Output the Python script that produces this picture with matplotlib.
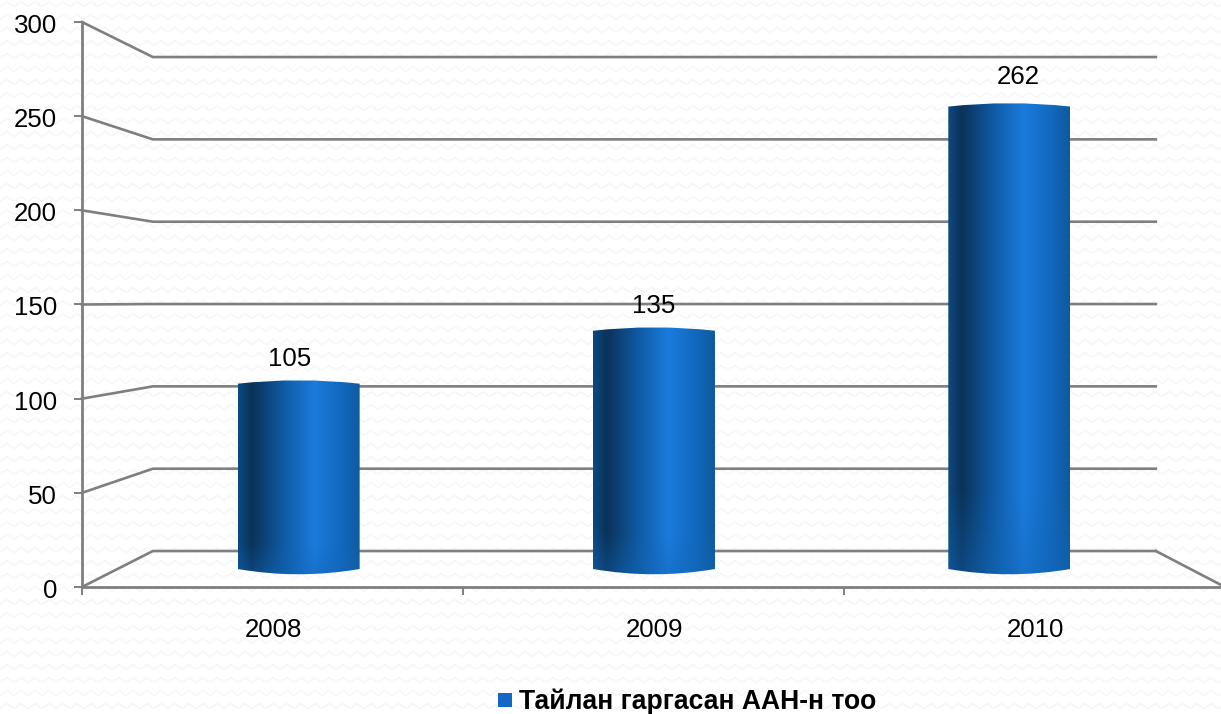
import numpy as np
import matplotlib.pyplot as plt
from matplotlib.colors import LinearSegmentedColormap
from matplotlib.patches import PathPatch, Rectangle
from matplotlib.path import Path
from matplotlib.transforms import ScaledTranslation

years = ["2008", "2009", "2010"]
reports = [105, 135, 262]
y_ticks = [0, 50, 100, 150, 200, 250, 300]
legend_label = "Тайлан гаргасан ААН-н тоо"

W, H = 1221, 714
grey = "#7f7f7f"
fontsize = 18.6

plt.rcParams.update(
    {
        "font.family": ["Liberation Sans", "DejaVu Sans"],
        "font.size": fontsize,
    }
)


# fake 3d: depth 0 is the front of the box, depth 1 the back wall
def depth_x(c, d):
    return d * 0.186 + c * (1 - d * 0.1225)


def depth_y(v, d):
    return d * 19.1 + v * (1 - d * 0.1257)


fig = plt.figure(figsize=(W / 100, H / 100), dpi=100, facecolor="white")

# faint zigzag wallpaper behind the chart
bg = fig.add_axes([0, 0, 1, 1], zorder=0)
bg.set_xlim(0, W)
bg.set_ylim(H, 0)
bg.axis("off")
zig_x = np.arange(-14, W + 14, 7)
for row in np.arange(4, H, 13):
    zig_y = row + 2.5 * (-1.0) ** (np.arange(len(zig_x)))
    bg.plot(zig_x, zig_y, color="#f6f6f6", lw=1.0, zorder=0)

ax = fig.add_axes(
    [82 / W, (H - 587) / H, (1225 - 82) / W, (587 - 22) / H], zorder=1
)
ax.patch.set_visible(False)
ax.set_xlim(0, 3)
ax.set_ylim(0, 300)

# walls and floor
for v in y_ticks:
    xs = [depth_x(0, 0), depth_x(0, 1), depth_x(3, 1)]
    ys = [depth_y(v, 0), depth_y(v, 1), depth_y(v, 1)]
    ax.plot(xs, ys, color=grey, lw=1.9, zorder=1, clip_on=False)
ax.plot(
    [depth_x(3, 1), depth_x(3, 0)],
    [depth_y(0, 1), depth_y(0, 0)],
    color=grey,
    lw=1.9,
    zorder=1,
)

# cylinder shading, left to right across each bar
shade = LinearSegmentedColormap.from_list(
    "cyl",
    [
        (0.0, "#0c4a84"),
        (0.11, "#0a3258"),
        (0.38, "#0f5ca6"),
        (0.62, "#1b7bdc"),
        (0.85, "#1168bd"),
        (1.0, "#0f5a9c"),
    ],
)
grad = np.linspace(0, 1, 256)[None, :]
rows = shade(np.repeat(grad, 100, axis=0))
bright = shade(np.full((100, 256), 0.45))
fade = np.clip((np.linspace(0, 1, 100) - 0.82) / 0.18, 0, 1)[:, None, None] * 0.45
rows = rows * (1 - fade) + bright * fade

half = 61 / 381
for i, value in enumerate(reports):
    c = depth_x(i + 0.5, 0.55)
    base = depth_y(0, 0.5)
    top = depth_y(value, 0.5)
    cyl = Path(
        [
            (c - half, base),
            (c - half, top),
            (c, top + 3.6),
            (c + half, top),
            (c + half, base),
            (c, base - 5.6),
            (c - half, base),
            (c - half, base),
        ],
        [
            Path.MOVETO,
            Path.LINETO,
            Path.CURVE3,
            Path.CURVE3,
            Path.LINETO,
            Path.CURVE3,
            Path.CURVE3,
            Path.CLOSEPOLY,
        ],
    )
    im = ax.imshow(
        rows,
        extent=[c - half, c + half, base - 6, top + 5],
        aspect="auto",
        zorder=2,
    )
    im.set_clip_path(PathPatch(cyl, transform=ax.transData))
    ax.annotate(
        str(value),
        (depth_x(i + 0.5, 0.35), top),
        xytext=(0, 17.5 if value < 200 else 21),
        textcoords="offset points",
        ha="center",
        va="center",
        color="black",
        zorder=3,
        annotation_clip=False,
    )

ax.set_xlim(0, 3)
ax.set_ylim(0, 300)

for side in ["top", "right"]:
    ax.spines[side].set_visible(False)
for side in ["left", "bottom"]:
    ax.spines[side].set_color(grey)
    ax.spines[side].set_linewidth(2.0)
    ax.spines[side].set_zorder(4)

ax.set_yticks(y_ticks)
ax.set_xticks([0, 1, 2, 3])
ax.set_xticks([0.5, 1.5, 2.5], labels=years, minor=True)
ax.set_xticklabels([])
ax.tick_params(axis="both", which="major", color=grey, width=1.4, length=5.5)
ax.tick_params(axis="y", pad=12.5)
ax.tick_params(axis="x", which="minor", length=0, pad=22)

# y labels sit a touch under their ticks in the original
nudge = ScaledTranslation(0, -1.5 / 100, fig.dpi_scale_trans)
for lab in ax.get_yticklabels():
    lab.set_transform(lab.get_transform() + nudge)
nudge_x = ScaledTranslation(1 / 100, 0, fig.dpi_scale_trans)
for lab in ax.get_xticklabels(minor=True):
    lab.set_transform(lab.get_transform() + nudge_x)

# legend is placed by hand, it sits on the bottom edge
bg.add_patch(Rectangle((498, 693), 14, 14, color="#1268c4", lw=0, zorder=3))
bg.text(
    519,
    702,
    legend_label,
    fontweight="bold",
    fontsize=19.1,
    ha="left",
    va="center",
    color="black",
    zorder=3,
)

fig.savefig("out.png", dpi=100)
